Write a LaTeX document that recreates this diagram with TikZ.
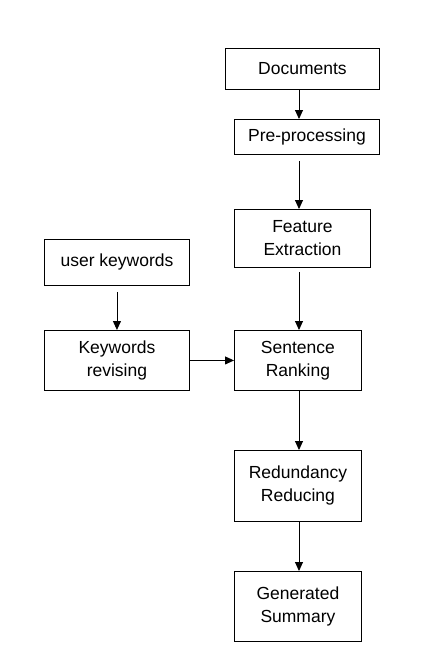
\documentclass[tikz,border=0pt]{standalone}
\usepackage{fontspec}
\setmainfont{Liberation Sans}
\usetikzlibrary{arrows.meta}

\begin{document}
\begin{tikzpicture}[x=1pt,y=-1pt]
		\tikzstyle{every node}=[font=\fontsize{17.5}{23}\selectfont]
		\tikzstyle{box}=[draw, line width=0.9pt, anchor=north west, inner sep=0pt, align=center]
		\tikzstyle{flow}=[line width=0.9pt, -{Triangle[length=9pt,width=8pt]}]

		\useasboundingbox (0,0) rectangle (432,662);

		\node [box, minimum width=154pt, minimum height=41pt] (docs) at (225,48) {Documents};
		\node [box, minimum width=145pt, minimum height=35pt] (prep) at (234,119) {Pre-processing};
		\node [box, minimum width=136pt, minimum height=58pt] (feat) at (234,209) {Feature\\Extraction};
		\node [box, minimum width=145pt, minimum height=46pt] (user) at (44,239) {user keywords};
		\node [box, minimum width=145pt, minimum height=60pt] (revise) at (44,330) {Keywords\\revising};
		\node [box, minimum width=127pt, minimum height=60pt] (rank) at (234,330) {Sentence\\Ranking};
		\node [box, minimum width=127pt, minimum height=71pt] (reduce) at (234,450) {Redundancy\\Reducing};
		\node [box, minimum width=127pt, minimum height=70pt] (summary) at (234,571) {Generated\\Summary};
		\coordinate (spine) at (299,0);

		\draw [flow] (docs.south -| spine) -- (prep.north -| spine);
		\draw [flow, shorten <=6pt] (prep.south -| spine) -- (feat.north -| spine);
		\draw [flow, shorten <=4pt] (feat.south -| spine) -- (rank.north -| spine);
		\draw [flow, shorten <=6pt] (user) -- (revise);
		\draw [flow] (revise) -- (rank);
		\draw [flow] (rank.south -| spine) -- (reduce.north -| spine);
		\draw [flow] (reduce.south -| spine) -- (summary.north -| spine);

	\end{tikzpicture}
\end{document}
